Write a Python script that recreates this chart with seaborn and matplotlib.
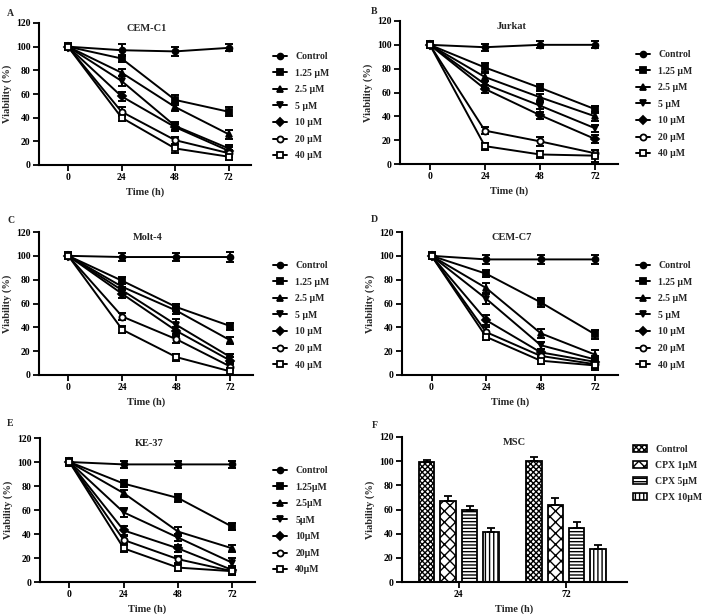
import matplotlib
matplotlib.use("Agg")
import matplotlib.pyplot as plt
from matplotlib.lines import Line2D
from matplotlib.patches import Patch
import numpy as np
import pandas as pd
import seaborn as sns

# ---------------------------------------------------------------------------
# Data
# ---------------------------------------------------------------------------
times = [0, 24, 48, 72]
conc_labels = ["Control", "1.25 \u03bcM", "2.5 \u03bcM", "5 \u03bcM", "10 \u03bcM", "20 \u03bcM", "40 \u03bcM"]
conc_labels_e = ["Control", "1.25\u03bcM", "2.5\u03bcM", "5\u03bcM", "10\u03bcM", "20\u03bcM", "40\u03bcM"]

cem_c1 = [
    [100, 97, 96, 99],
    [100, 90, 55, 45],
    [100, 78, 49, 26],
    [100, 71, 33, 14],
    [100, 58, 32, 12],
    [100, 45, 21, 10],
    [100, 40, 14, 7],
]
cem_c1_err = [
    [2, 5, 4, 3], [3, 3, 4, 4], [2, 3, 3, 4], [2, 4, 3, 3],
    [2, 4, 3, 3], [2, 4, 3, 3], [2, 3, 4, 3],
]

jurkat = [
    [100, 98, 100, 100],
    [100, 81, 64, 46],
    [100, 73, 56, 40],
    [100, 67, 49, 30],
    [100, 63, 41, 21],
    [100, 28, 19, 9],
    [100, 15, 8, 7],
]
jurkat_err = [
    [2, 3, 3, 3], [3, 4, 3, 3], [2, 3, 3, 4], [2, 3, 3, 3],
    [2, 3, 3, 3], [2, 3, 4, 3], [2, 3, 3, 5],
]

molt4 = [
    [100, 99, 99, 99],
    [100, 79, 57, 41],
    [100, 74, 54, 29],
    [100, 71, 42, 15],
    [100, 68, 37, 12],
    [100, 49, 30, 7],
    [100, 38, 15, 3],
]
molt4_err = [
    [2, 3, 3, 4], [3, 3, 3, 3], [2, 3, 3, 3], [2, 3, 5, 3],
    [2, 3, 3, 3], [2, 3, 3, 3], [2, 3, 3, 3],
]

cem_c7 = [
    [100, 97, 97, 97],
    [100, 85, 61, 34],
    [100, 73, 35, 17],
    [100, 64, 25, 13],
    [100, 46, 19, 11],
    [100, 36, 16, 9],
    [100, 32, 12, 8],
]
cem_c7_err = [
    [2, 4, 4, 4], [3, 3, 4, 4], [2, 4, 4, 4], [2, 4, 3, 3],
    [2, 4, 3, 3], [2, 4, 3, 3], [2, 3, 3, 4],
]

ke37 = [
    [100, 98, 98, 98],
    [100, 82, 70, 46],
    [100, 74, 42, 28],
    [100, 58, 37, 16],
    [100, 43, 28, 10],
    [100, 35, 19, 9],
    [100, 28, 12, 9],
]
ke37_err = [
    [2, 3, 3, 3], [3, 3, 3, 3], [2, 3, 4, 3], [2, 4, 3, 4],
    [2, 4, 3, 3], [2, 3, 3, 3], [2, 3, 3, 3],
]

msc_groups = ["24", "72"]
msc_labels = ["Control", "CPX 1\u03bcM", "CPX 5\u03bcM", "CPX 10\u03bcM"]
msc_24 = [99, 67, 60, 41]
msc_72 = [100, 64, 45, 27]
msc_24_err = [2, 4, 3, 3.5]
msc_72_err = [3.5, 5.5, 5, 4]

# ---------------------------------------------------------------------------
# Style
# ---------------------------------------------------------------------------
sns.set_style("ticks")
plt.rcParams["font.family"] = ["Liberation Serif", "DejaVu Serif"]
plt.rcParams["font.weight"] = "bold"
plt.rcParams["axes.labelweight"] = "bold"
plt.rcParams["hatch.linewidth"] = 1.0
plt.rcParams["hatch.color"] = "black"

FS = 7.0
FS_LAB = 7.5
MARKERS = ["o", "s", "^", "v", "D", "o", "s"]
OPEN = [False, False, False, False, False, True, True]
MSIZE = [4.2, 4.2, 4.8, 4.8, 4.0, 4.4, 4.8]

W, H = 709, 614
fig = plt.figure(figsize=(W / 100, H / 100), dpi=100)


def rect(x0, y0, x1, y1):
    return [x0 / W, 1 - y1 / H, (x1 - x0) / W, (y1 - y0) / H]


def style_axes(ax):
    for s in ["top", "right"]:
        ax.spines[s].set_visible(False)
    for s in ["left", "bottom"]:
        ax.spines[s].set_linewidth(1.5)
        ax.spines[s].set_color("black")
    ax.tick_params(direction="out", length=4, width=1.3, labelsize=FS, pad=2, colors="black")
    ax.set_ylim(0, 120)
    ax.set_yticks(range(0, 121, 20))
    ax.set_ylabel("Viability (%)", fontsize=FS_LAB, labelpad=3)
    for lab in ax.get_xticklabels() + ax.get_yticklabels():
        lab.set_fontweight("bold")


def line_panel(box, data, err, title, labels, letter, letter_xy, legend_xy):
    ax = fig.add_axes(rect(*box))
    handles = []
    for i, (vals, e) in enumerate(zip(data, err)):
        df = pd.DataFrame({"time": times, "viability": vals})
        ax.errorbar(times, vals, yerr=e, fmt="none", ecolor="black",
                    elinewidth=1.4, capsize=3, capthick=1.4, zorder=2)
        sns.lineplot(data=df, x="time", y="viability", ax=ax, color="black",
                     linewidth=1.4, marker=MARKERS[i], markersize=MSIZE[i],
                     markeredgecolor="black", markeredgewidth=1.3,
                     markerfacecolor="white" if OPEN[i] else "black", zorder=3)
        handles.append(Line2D([], [], color="black", linewidth=1.4, marker=MARKERS[i],
                              markersize=MSIZE[i], markeredgecolor="black", markeredgewidth=1.3,
                              markerfacecolor="white" if OPEN[i] else "black"))
    style_axes(ax)
    ax.set_xlim(-13, 82)
    ax.set_xticks(times)
    ax.set_xticklabels([str(t) for t in times], fontweight="bold")
    ax.set_xlabel("Time (h)", fontsize=FS_LAB, labelpad=4)
    ax.text(0.51, 0.96, title, transform=ax.transAxes, ha="center", va="center",
            fontsize=FS_LAB, fontweight="bold")
    fig.text(letter_xy[0] / W, 1 - letter_xy[1] / H, letter, fontsize=FS,
             fontweight="bold", ha="left", va="center")
    ax.legend(handles, labels, loc="upper left", frameon=False, fontsize=FS,
              bbox_to_anchor=(legend_xy[0] / W, 1 - legend_xy[1] / H),
              bbox_transform=fig.transFigure, borderpad=0, borderaxespad=0,
              handlelength=1.4, handletextpad=0.9, labelspacing=0.78)
    return ax


line_panel((39, 23, 251, 165), cem_c1, cem_c1_err, "CEM-C1", conc_labels, "A", (7, 13), (273, 52))
line_panel((400, 21, 618, 164), jurkat, jurkat_err, "Jurkat", conc_labels, "B", (371, 12), (636, 50))
line_panel((39, 232, 253, 375), molt4, molt4_err, "Molt-4", conc_labels, "C", (7, 221), (273, 261))
line_panel((402, 232, 618, 375), cem_c7, cem_c7_err, "CEM-C7", conc_labels, "D", (371, 220), (636, 261))
line_panel((40, 438, 255, 582), ke37, ke37_err, "KE-37", conc_labels_e, "E", (7, 424), (273, 466))

# ---------------------------------------------------------------------------
# Panel F: MSC bars
# ---------------------------------------------------------------------------
axf = fig.add_axes(rect(402, 437, 627, 582))
bar_df = pd.DataFrame({
    "time": [g for g in msc_groups for _ in msc_labels],
    "treat": msc_labels * len(msc_groups),
    "viability": msc_24 + msc_72,
})
sns.barplot(data=bar_df, x="time", y="viability", hue="treat", order=msc_groups,
            hue_order=msc_labels, palette=["white"] * 4, edgecolor="black",
            linewidth=1.3, width=0.8, gap=0.28, errorbar=None, legend=False, ax=axf)
hatches = ["xxxxxx", "xxx", "-----", "||||"]
errs = [msc_24_err, msc_72_err]
bar_conts = list(axf.containers)
for j, cont in enumerate(bar_conts):
    for k, bar in enumerate(cont):
        bar.set_hatch(hatches[j])
        cx = bar.get_x() + bar.get_width() / 2
        top = bar.get_height()
        axf.errorbar([cx], [top], yerr=[[0], [errs[k][j]]], fmt="none", ecolor="black",
                     elinewidth=1.3, capsize=3, capthick=1.3, zorder=1)
style_axes(axf)
axf.set_xlim(-0.53, 1.57)
axf.set_xlabel("Time (h)", fontsize=FS_LAB, labelpad=4)
axf.text(0.5, 0.96, "MSC", transform=axf.transAxes, ha="center", va="center",
         fontsize=FS_LAB, fontweight="bold")
fig.text(372 / W, 1 - 425 / H, "F", fontsize=FS, fontweight="bold", ha="left", va="center")
patches = [Patch(facecolor="white", edgecolor="black", hatch=h, linewidth=1.2) for h in hatches]
axf.legend(patches, msc_labels, loc="upper left", frameon=False, fontsize=FS,
           bbox_to_anchor=(633 / W, 1 - 445 / H), bbox_transform=fig.transFigure,
           borderpad=0, borderaxespad=0, handlelength=1.4, handleheight=0.8,
           handletextpad=0.9, labelspacing=0.7)

fig.savefig("out.png", dpi=100)
